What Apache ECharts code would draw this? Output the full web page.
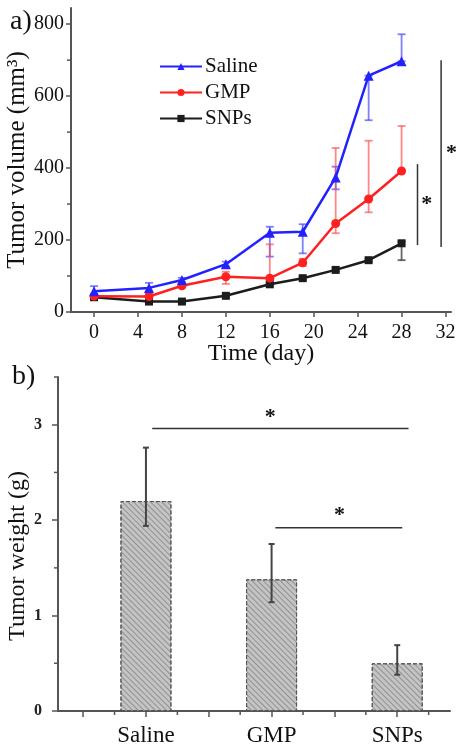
<!DOCTYPE html>
<html><head><meta charset="utf-8">
<script src="https://cdn.jsdelivr.net/npm/echarts@6/dist/echarts.min.js"></script>
<style>html,body{margin:0;padding:0;background:#fff}#c{width:464px;height:750px}</style>
</head><body><div id="c"></div>
<script>
// ---- Panel a) tumor volume ----
const days = [0, 5, 8, 12, 16, 19, 22, 25, 28];
const salineVol = [58, 67, 89, 133, 220, 223, 374, 657, 697];
const salineLow = [48, 57, 83, 126, 154, 163, 341, 533, 697];
const salineHigh = [72, 81, 95, 140, 237, 244, 404, 657, 772];
const gmpVol = [44, 43, 73, 98, 94, 137, 246, 314, 392];
const gmpLow = [40, 38, 68, 78, 94, 128, 219, 277, 392];
const gmpHigh = [50, 50, 78, 112, 188, 148, 456, 476, 517];
const snpVol = [41, 29, 29, 45, 77, 94, 117, 144, 191];
const snpLow = [37, 25, 25, 41, 73, 90, 113, 140, 144];
const snpHigh = [45, 33, 33, 49, 81, 98, 121, 148, 196];
const volTicks = [0, 200, 400, 600, 800];
const volMinorTicks = [100, 300, 500, 700];
const dayTicks = [0, 4, 8, 12, 16, 20, 24, 28, 32];
// significance annotations (data units): [x1, y1, x2, y2]
const volSigLines = [[31.6, 181, 31.6, 700], [29.45, 186, 29.45, 411]];
const volSigStars = [[32.55, 442], [30.3, 300]];

// ---- Panel b) tumor weight ----
const groups = ['Saline', 'GMP', 'SNPs'];
const groupPos = [1, 2, 3];
const weight = [2.2, 1.38, 0.5];
const weightLow = [1.94, 1.14, 0.38];
const weightHigh = [2.76, 1.75, 0.69];
const weightTicks = [0, 1, 2, 3];
const weightMinorTicks = [0.5, 1.5, 2.5, 3.5];
const groupMajorTicks = [0.5, 1, 1.5, 2, 2.5, 3];
const groupMinorTicks = [0.75, 1.25, 1.75, 2.25, 2.75, 3.25];
const weightSigLines = [[1.05, 2.96, 3.09, 2.96], [2.03, 1.92, 3.04, 1.92]];
const weightSigStars = [[1.99, 3.08], [2.54, 2.05]];

const FONT = '"Liberation Serif", "Times New Roman", serif';
const AX = '#555';
const VOL_X_MIN = -2.1, VOL_X_MAX = 32.5, VOL_Y_MAX = 845;
const W_X_MIN = 0.3, W_X_MAX = 3.42, W_Y_MAX = 3.5;

function errSeries(xi, yi, xs, lows, highs, color, capW, lw, z) {
  return {
    type: 'custom', xAxisIndex: xi, yAxisIndex: yi, silent: true, z: z,
    data: xs.map((x, i) => [x, lows[i], highs[i]]),
    encode: { x: 0, y: [1, 2] },
    renderItem(params, api) {
      const x = api.value(0), lo = api.value(1), hi = api.value(2);
      const p1 = api.coord([x, hi]), p2 = api.coord([x, lo]);
      const h = capW / 2;
      const st = { stroke: color, lineWidth: lw };
      return { type: 'group', children: [
        { type: 'line', shape: { x1: p1[0], y1: p1[1], x2: p2[0], y2: p2[1] }, style: st },
        { type: 'line', shape: { x1: p1[0] - h, y1: p1[1], x2: p1[0] + h, y2: p1[1] }, style: st },
        { type: 'line', shape: { x1: p2[0] - h, y1: p2[1], x2: p2[0] + h, y2: p2[1] }, style: st }
      ]};
    }
  };
}
function segSeries(xi, yi, segs, color, lw) {
  return {
    type: 'custom', xAxisIndex: xi, yAxisIndex: yi, silent: true, z: 5,
    data: segs, encode: { x: [0, 2], y: [1, 3] },
    renderItem(params, api) {
      const a = api.coord([api.value(0), api.value(1)]);
      const b = api.coord([api.value(2), api.value(3)]);
      return { type: 'line', shape: { x1: a[0], y1: a[1], x2: b[0], y2: b[1] }, style: { stroke: color, lineWidth: lw } };
    }
  };
}
function starSeries(xi, yi, pts) {
  return {
    type: 'custom', xAxisIndex: xi, yAxisIndex: yi, silent: true, z: 5,
    data: pts, encode: { x: 0, y: 1 },
    renderItem(params, api) {
      const p = api.coord([api.value(0), api.value(1)]);
      return { type: 'text', x: p[0], y: p[1], style: { text: '*', font: 'bold 22px ' + FONT, fill: '#111', align: 'center', verticalAlign: 'middle' } };
    }
  };
}
// minor axis ticks, positioned through the axis scales
function minorTicks(xi, yi, vals, dim, anchor, len) {
  return {
    type: 'custom', xAxisIndex: xi, yAxisIndex: yi, silent: true, z: 6, clip: false,
    data: vals.map(v => dim === 'y' ? [anchor, v] : [v, anchor]),
    encode: { x: 0, y: 1 },
    renderItem(params, api) {
      const p = api.coord([api.value(0), api.value(1)]);
      const shape = dim === 'y'
        ? { x1: p[0] - 1 - len, y1: p[1], x2: p[0] - 1, y2: p[1] }
        : { x1: p[0], y1: p[1] + 1, x2: p[0], y2: p[1] + 1 + len };
      return { type: 'line', shape, style: { stroke: AX, lineWidth: 1.5 } };
    }
  };
}
function lineSeries(name, vals, color, symbol, size) {
  return {
    name, type: 'line', xAxisIndex: 0, yAxisIndex: 0, z: 3,
    data: days.map((d, i) => [d, vals[i]]),
    symbol, symbolSize: size, showSymbol: true,
    lineStyle: { color, width: 2.5 }, itemStyle: { color, borderWidth: 0 },
    emphasis: { disabled: true }
  };
}

const chart = echarts.init(document.getElementById('c'), null, { renderer: 'canvas' });
chart.setOption({
  animation: false,
  backgroundColor: '#fff',
  textStyle: { fontFamily: FONT },
  graphic: [
    { type: 'text', left: 10, top: 8, style: { text: 'a)', font: '28px ' + FONT, fill: '#111' } },
    { type: 'text', left: 12, top: 363, style: { text: 'b)', font: '28px ' + FONT, fill: '#111' } }
  ],
  legend: {
    data: ['Saline', 'GMP', 'SNPs'], orient: 'vertical', left: 154, top: 51,
    itemWidth: 42, itemHeight: 9, itemGap: 5,
    textStyle: { fontFamily: FONT, fontSize: 21, color: '#111', padding: [0, 0, 0, -2] }
  },
  grid: [
    { left: 71, top: 8, width: 380, height: 304, containLabel: false, outerBoundsMode: 'none' },
    { left: 58, top: 377, width: 392, height: 334, containLabel: false, outerBoundsMode: 'none' }
  ],
  xAxis: [
    { type: 'value', gridIndex: 0, min: VOL_X_MIN, max: VOL_X_MAX, position: 'bottom',
      name: 'Time (day)', nameLocation: 'middle', nameGap: 30, nameMoveOverlap: false,
      nameTextStyle: { fontFamily: FONT, fontSize: 24, color: '#111' },
      axisLine: { onZero: false, lineStyle: { color: AX, width: 2 } },
      axisTick: { customValues: dayTicks, length: 5, lineStyle: { color: AX, width: 1.5 } },
      axisLabel: { customValues: dayTicks, fontFamily: FONT, fontSize: 20, color: '#111', margin: 11 },
      splitLine: { show: false } },
    { type: 'value', gridIndex: 1, min: W_X_MIN, max: W_X_MAX, position: 'bottom',
      axisLine: { onZero: false, lineStyle: { color: AX, width: 2 } },
      axisTick: { customValues: groupMajorTicks, length: 6, lineStyle: { color: AX, width: 1.5 } },
      axisLabel: { customValues: groupPos, fontFamily: FONT, fontSize: 23, color: '#111', margin: 13,
        formatter: v => groups[groupPos.indexOf(Math.round(v))] },
      splitLine: { show: false } }
  ],
  yAxis: [
    { type: 'value', gridIndex: 0, min: 0, max: VOL_Y_MAX, position: 'left',
      name: 'Tumor volume (mm³)', nameLocation: 'middle', nameGap: 41, nameRotate: 90, nameMoveOverlap: false,
      nameTextStyle: { fontFamily: FONT, fontSize: 25, color: '#111' },
      axisLine: { show: true, onZero: false, lineStyle: { color: AX, width: 2 } },
      axisTick: { show: true, customValues: volTicks, length: 5, lineStyle: { color: AX, width: 1.5 } },
      axisLabel: { customValues: volTicks, fontFamily: FONT, fontSize: 20, color: '#111', margin: 7 },
      splitLine: { show: false } },
    { type: 'value', gridIndex: 1, min: 0, max: W_Y_MAX, position: 'left',
      name: 'Tumor weight (g)', nameLocation: 'middle', nameGap: 28, nameRotate: 90, nameMoveOverlap: false,
      nameTextStyle: { fontFamily: FONT, fontSize: 24, color: '#111', padding: [0, 24, 0, 0] },
      axisLine: { show: true, onZero: false, lineStyle: { color: AX, width: 2 } },
      axisTick: { show: true, customValues: weightTicks, length: 6, lineStyle: { color: AX, width: 1.5 } },
      axisLabel: { customValues: weightTicks, fontFamily: FONT, fontSize: 16, fontWeight: 'bold', color: '#222', margin: 16 },
      splitLine: { show: false } }
  ],
  series: [
    errSeries(0, 0, days, salineLow, salineHigh, 'rgba(60,60,255,0.65)', 8, 1.8, 2),
    errSeries(0, 0, days, gmpLow, gmpHigh, 'rgba(255,70,70,0.65)', 8, 1.8, 2),
    errSeries(0, 0, days, snpLow, snpHigh, 'rgba(40,40,40,0.7)', 8, 1.8, 2),
    lineSeries('SNPs', snpVol, '#1c1c1c', 'rect', 8),
    lineSeries('GMP', gmpVol, '#ff2020', 'circle', 9),
    lineSeries('Saline', salineVol, '#2222ff', 'triangle', 10),
    segSeries(0, 0, volSigLines, '#333', 1.5),
    starSeries(0, 0, volSigStars),
    minorTicks(0, 0, volMinorTicks, 'y', VOL_X_MIN, 3),
    {
      type: 'bar', xAxisIndex: 1, yAxisIndex: 1, barWidth: 51, z: 2,
      data: groupPos.map((x, i) => [x, weight[i]]),
      itemStyle: { color: '#c4c4c4', borderColor: '#555', borderWidth: 1, borderType: 'dashed',
        decal: { symbol: 'rect', symbolSize: 1, dashArrayX: [1, 0], dashArrayY: [1, 2.5], rotation: Math.PI / 4, color: 'rgba(110,110,110,0.6)' } },
      emphasis: { disabled: true }
    },
    errSeries(1, 1, groupPos, weightLow, weightHigh, '#444', 6, 2, 4),
    segSeries(1, 1, weightSigLines, '#333', 1.5),
    starSeries(1, 1, weightSigStars),
    minorTicks(1, 1, weightMinorTicks, 'y', W_X_MIN, 3),
    minorTicks(1, 1, groupMinorTicks, 'x', 0, 3)
  ]
});
</script></body></html>
